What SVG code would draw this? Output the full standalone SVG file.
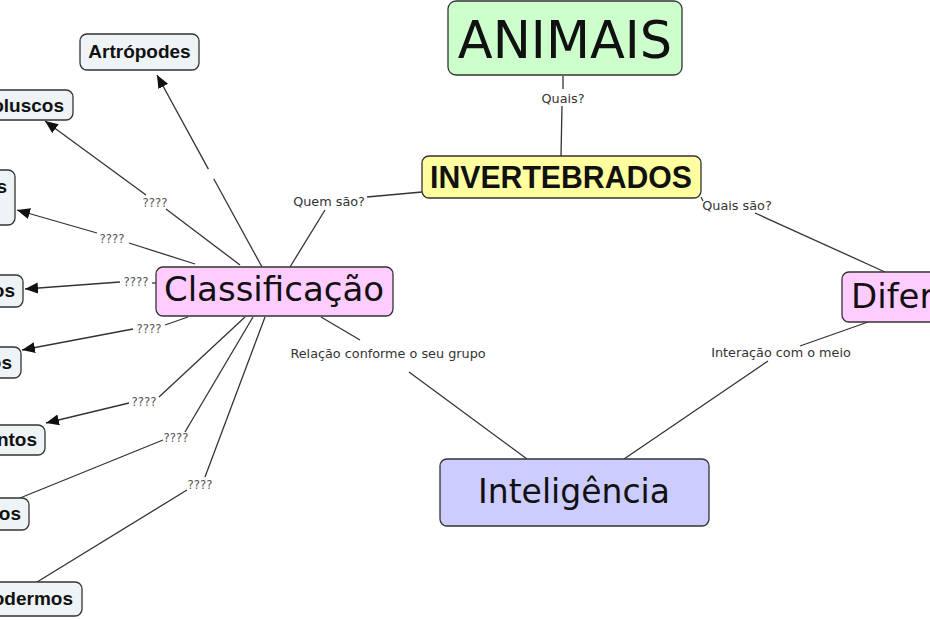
<svg xmlns="http://www.w3.org/2000/svg" width="930" height="620" viewBox="0 0 930 620">
<defs>
<marker id="arr" markerUnits="userSpaceOnUse" markerWidth="14" markerHeight="12" refX="13" refY="5.5" orient="auto">
<path d="M0,0 L13,5.5 L0,11 z" fill="#111"/>
</marker>
<style>
.bg{fill:#ffffff}
.big{fill:#111;font-family:"DejaVu Sans",sans-serif}
.small{stroke:#333;stroke-width:1.3;fill:#eef3f6}
.sn{font-family:"Liberation Sans",Arial,sans-serif;font-weight:bold;font-size:19px;fill:#111}
.ln{stroke:#333;stroke-width:1.3;fill:none}
.lab{font-family:"DejaVu Sans",sans-serif;font-size:12.8px;fill:#333;text-anchor:middle}
.q{font-family:"DejaVu Sans Condensed","DejaVu Sans",sans-serif;font-size:13px;fill:#555;text-anchor:middle}
.main{stroke:#333;stroke-width:1.3}
</style>
</defs>
<rect class="bg" x="0" y="0" width="930" height="620"/>

<g id="connectors">
<!-- Artropodes -->
<line class="ln" x1="262" y1="267" x2="213.7" y2="178.7"/>
<line class="ln" x1="208.4" y1="169.1" x2="157" y2="75" marker-end="url(#arr)"/>
<!-- Moluscos -->
<line class="ln" x1="240" y1="265" x2="166" y2="209"/>
<text class="q" x="155" y="207">????</text>
<line class="ln" x1="146" y1="195" x2="45" y2="121" marker-end="url(#arr)"/>
<!-- s -->
<line class="ln" x1="195" y1="264" x2="129" y2="243"/>
<text class="q" x="112" y="243">????</text>
<line class="ln" x1="97" y1="233" x2="17" y2="210" marker-end="url(#arr)"/>
<!-- os1 -->
<line class="ln" x1="156" y1="283" x2="152" y2="283"/>
<text class="q" x="136" y="286">????</text>
<line class="ln" x1="120" y1="282" x2="25" y2="289" marker-end="url(#arr)"/>
<!-- os2 -->
<line class="ln" x1="188" y1="317" x2="165" y2="325"/>
<text class="q" x="149" y="333">????</text>
<line class="ln" x1="133" y1="329" x2="22" y2="350" marker-end="url(#arr)"/>
<!-- ntos -->
<line class="ln" x1="245" y1="317" x2="159" y2="397"/>
<text class="q" x="144" y="406">????</text>
<line class="ln" x1="129" y1="403" x2="46" y2="423" marker-end="url(#arr)"/>
<!-- os3 -->
<line class="ln" x1="253" y1="317" x2="185" y2="432"/>
<text class="q" x="176" y="442">????</text>
<line class="ln" x1="163" y1="440" x2="20" y2="498"/>
<!-- odermos -->
<line class="ln" x1="265" y1="317" x2="205" y2="477"/>
<text class="q" x="200" y="489">????</text>
<line class="ln" x1="187" y1="490" x2="37" y2="582"/>
<!-- ANIMAIS - INVERTEBRADOS -->
<line class="ln" x1="563" y1="76" x2="563" y2="89"/>
<text class="lab" x="563" y="103">Quais?</text>
<line class="ln" x1="562" y1="106" x2="561" y2="156"/>
<!-- INVERTEBRADOS - Classificacao -->
<line class="ln" x1="422" y1="192" x2="367" y2="197"/>
<text class="lab" x="329" y="206">Quem são?</text>
<line class="ln" x1="325" y1="210" x2="290" y2="267"/>
<!-- INVERTEBRADOS - Diferencas -->
<line class="ln" x1="701" y1="197" x2="703" y2="201"/>
<text class="lab" x="737" y="210">Quais são?</text>
<line class="ln" x1="755" y1="213" x2="885" y2="272"/>
<!-- Classificacao - Inteligencia -->
<line class="ln" x1="321" y1="317" x2="360" y2="340"/>
<text class="lab" x="388" y="358">Relação conforme o seu grupo</text>
<line class="ln" x1="409" y1="372" x2="527" y2="459"/>
<!-- Diferencas - Inteligencia -->
<line class="ln" x1="868" y1="322" x2="800" y2="346"/>
<text class="lab" x="781" y="357">Interação com o meio</text>
<line class="ln" x1="768" y1="361" x2="624" y2="459"/>
</g>

<g id="animais">
<rect class="main" x="448" y="1" width="234" height="74" rx="8" fill="#ccffcc"/>
<text class="big" x="565" y="58" font-size="51" text-anchor="middle">ANIMAIS</text>
</g>
<g id="invertebrados">
<rect class="main" x="422" y="156" width="279" height="42" rx="7" fill="#ffff9f"/>
<text x="561" y="188" font-family="'Liberation Sans',Arial,sans-serif" font-weight="bold" font-size="31" fill="#111" text-anchor="middle" textLength="262" lengthAdjust="spacingAndGlyphs">INVERTEBRADOS</text>
</g>
<g id="classificacao">
<rect class="main" x="156" y="267" width="237" height="49" rx="7" fill="#ffccff"/>
<text class="big" x="274" y="301" font-size="34" text-anchor="middle">Classificação</text>
</g>
<g id="diferencas">
<rect class="main" x="842" y="272" width="110" height="50" rx="7" fill="#ffccff"/>
<text class="big" x="851" y="308" font-size="34">Diferenças</text>
</g>
<g id="inteligencia">
<rect class="main" x="440" y="459" width="269" height="67" rx="7" fill="#ccccff"/>
<text class="big" x="574" y="503" font-size="33" text-anchor="middle">Inteligência</text>
</g>

<g id="artropodes">
<rect class="small" x="80" y="34" width="119" height="36" rx="7"/>
<text class="sn" x="139.5" y="58" text-anchor="middle">Artrópodes</text>
</g>
<g id="moluscos">
<rect class="small" x="-60" y="90" width="133" height="30" rx="7"/>
<text class="sn" x="64" y="112" text-anchor="end">Moluscos</text>
</g>
<g id="node-s">
<rect class="small" x="-120" y="170" width="135" height="55" rx="7"/>
<text class="sn" x="7" y="193" text-anchor="end">Cnidários</text>
</g>
<g id="node-os1">
<rect class="small" x="-120" y="275" width="143" height="32" rx="7"/>
<text class="sn" x="15" y="297" text-anchor="end">Poríferos</text>
</g>
<g id="node-os2">
<rect class="small" x="-120" y="347" width="141" height="31" rx="7"/>
<text class="sn" x="12" y="369" text-anchor="end">Anelídeos</text>
</g>
<g id="node-ntos">
<rect class="small" x="-120" y="425" width="165" height="30" rx="7"/>
<text class="sn" x="37" y="446" text-anchor="end">Platelmintos</text>
</g>
<g id="node-os3">
<rect class="small" x="-120" y="498" width="149" height="32" rx="7"/>
<text class="sn" x="21" y="520" text-anchor="end">Nematódeos</text>
</g>
<g id="node-odermos">
<rect class="small" x="-120" y="582" width="202" height="34" rx="7"/>
<text class="sn" x="73" y="605" text-anchor="end">Equinodermos</text>
</g>
</svg>
